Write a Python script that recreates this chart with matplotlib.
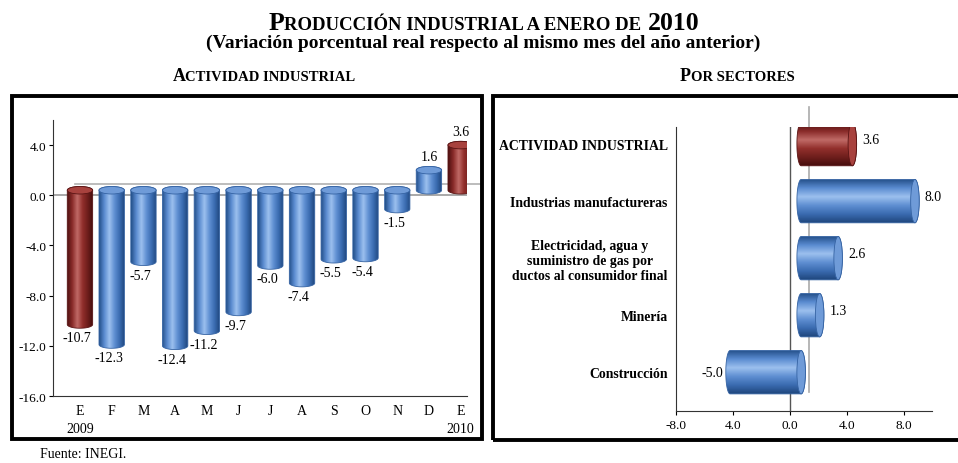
import numpy as np
import matplotlib.pyplot as plt
from matplotlib.colors import LinearSegmentedColormap
from matplotlib.patches import Ellipse, PathPatch, Rectangle
from matplotlib.path import Path

plt.rcParams['font.family'] = ['Liberation Serif', 'DejaVu Serif']

# datos
meses = ['E', 'F', 'M', 'A', 'M', 'J', 'J', 'A', 'S', 'O', 'N', 'D', 'E']
anios = ['2009', '', '', '', '', '', '', '', '', '', '', '', '2010']
var_mensual = [-10.7, -12.3, -5.7, -12.4, -11.2, -9.7, -6.0, -7.4, -5.5, -5.4, -1.5, 1.6, 3.6]
destacados = [0, 12]

sectores = ['Construcción', 'Minería',
            'Electricidad, agua y\nsuministro de gas por\nductos al consumidor final',
            'Industrias manufactureras', 'ACTIVIDAD INDUSTRIAL']
var_sector = [-5.0, 1.3, 2.6, 8.0, 3.6]
destacado_sector = 4

yticks_izq = [4.0, 0.0, -4.0, -8.0, -12.0, -16.0]
xticks_der = [-8.0, -4.0, 0.0, 4.0, 8.0]
xticklabels_der = ['-8.0', '4.0', '0.0', '4.0', '8.0']

azul = LinearSegmentedColormap.from_list('azul', ['#24508a', '#5a8bd0', '#9cc0ee', '#5f8fd2', '#3a6bb0', '#1f467c'])
rojo = LinearSegmentedColormap.from_list('rojo', ['#4e1010', '#8a2c2a', '#c06a66', '#922f2c', '#6e1e1c', '#460d0d'])
tapa = {'azul': ('#6f9bd8', '#3563a3'), 'rojo': ('#a8423e', '#5a1414')}


def cilindro(ax, pos, v, ancho, cap, depth, cmap, nombre, horizontal=False):
    lo, hi = min(0, v) + depth, max(0, v) + depth
    t1 = np.linspace(np.pi, 0, 40)
    t2 = np.linspace(0, -np.pi, 40)
    a = np.r_[pos + ancho / 2 * np.cos(t1), pos + ancho / 2 * np.cos(t2)]
    b = np.r_[hi + cap / 2 * np.sin(t1), lo + cap / 2 * np.sin(t2)]
    if horizontal:
        verts = np.c_[b, a]
        ext = [lo - cap / 2, hi + cap / 2, pos - ancho / 2, pos + ancho / 2]
        grad = np.linspace(1, 0, 100).reshape(-1, 1)
    else:
        verts = np.c_[a, b]
        ext = [pos - ancho / 2, pos + ancho / 2, lo - cap / 2, hi + cap / 2]
        grad = np.linspace(0, 1, 100).reshape(1, -1)
    path = Path(np.r_[verts, verts[:1]], closed=True)
    borde = PathPatch(path, facecolor='none', edgecolor=tapa[nombre][1], lw=0.6, zorder=3)
    ax.add_patch(borde)
    im = ax.imshow(grad, extent=ext, origin='lower', aspect='auto', cmap=cmap,
                   interpolation='bilinear', zorder=2)
    im.set_clip_path(borde)
    if horizontal:
        e = Ellipse((hi, pos), cap, ancho)
    else:
        e = Ellipse((pos, hi), ancho, cap)
    e.set(facecolor=tapa[nombre][0], edgecolor=tapa[nombre][1], lw=0.6, zorder=4)
    ax.add_patch(e)
    return lo, hi


fig = plt.figure(figsize=(9.58, 4.64), dpi=100)
W, H = 958, 464


def fx(px):
    return px / W


def fy(py):
    return 1 - py / H


# títulos en versalitas
def versalitas(xc, yb, piezas, **kw):
    r = fig.canvas.get_renderer()
    textos, anchos = [], []
    for txt, size, gap in piezas:
        t = fig.text(0, fy(yb), txt, fontsize=size, fontweight='bold', va='baseline', ha='left', **kw)
        textos.append((t, gap))
        anchos.append(t.get_window_extent(r).width + gap)
    x = xc - sum(anchos) / 2
    for (t, gap), w in zip(textos, anchos):
        x += gap
        t.set_x(fx(x))
        x += w - gap


versalitas(484, 30, [('P', 18.5, 0), ('RODUCCIÓN INDUSTRIAL A ENERO DE', 13.5, 0), ('2010', 18.5, 6)])
fig.text(fx(483), fy(48), '(Variación porcentual real respecto al mismo mes del año anterior)',
         fontsize=14, fontweight='bold', ha='center', va='baseline')
versalitas(264, 81, [('A', 13, 0), ('CTIVIDAD INDUSTRIAL', 10.5, 0)])
versalitas(737, 81, [('P', 13, 0), ('OR SECTORES', 10.5, 0)])
fig.text(fx(40), fy(458), 'Fuente: INEGI.', fontsize=10, ha='left', va='baseline')

# marcos
fig.patches.append(Rectangle((fx(12), fy(440)), fx(470), 343 / H, transform=fig.transFigure,
                             fill=False, lw=2.8, edgecolor='black'))
fig.patches.append(Rectangle((fx(493), fy(441)), fx(475), 344 / H, transform=fig.transFigure,
                             fill=False, lw=2.8, edgecolor='black', clip_on=False))

# ---- actividad industrial mensual ----
ax = fig.add_axes([fx(53), fy(397), fx(414), 276 / H])
x = np.arange(len(var_mensual))
depth = 0.4
ax.plot([-0.16, 12.6], [0.9, 0.9], color='#b0b0b0', lw=1.2, zorder=1, clip_on=False)
ax.axhline(0, color='#9a9a9a', lw=1.2, zorder=1)
for i, v in enumerate(var_mensual):
    nombre = 'rojo' if i in destacados else 'azul'
    cmap = rojo if i in destacados else azul
    lo, hi = cilindro(ax, i, v, 0.8, 0.6, depth, cmap, nombre)
    if v >= 0:
        ax.text(i, hi + 0.6, f'{v:.1f}', ha='center', va='bottom', fontsize=10)
    else:
        ax.text(i - 0.1, lo - 0.55, f'{v:.1f}', ha='center', va='top', fontsize=10)

ax.set_xlim(-0.85, 12.2)
ax.set_ylim(-16, 6)
ax.set_yticks(yticks_izq)
ax.set_yticklabels([f'{t:.1f}' for t in yticks_izq], fontsize=9.5)
ax.set_xticks(x)
ax.set_xticklabels([f'{m}\n{a}' if a else m for m, a in zip(meses, anios)], fontsize=10,
                   va='top', linespacing=1.45)
ax.tick_params(axis='x', length=0, pad=6)
ax.tick_params(axis='y', length=3, pad=2)
for s in ['top', 'right']:
    ax.spines[s].set_visible(False)
for s in ['left', 'bottom']:
    ax.spines[s].set_color('#333333')

# ---- por sectores ----
ax2 = fig.add_axes([fx(676), fy(412), fx(256), 284 / H])
y = np.arange(len(var_sector))
depth2 = 0.8
ax2.axvline(0, color='#555555', lw=1.0, zorder=1)
ax2.plot([1.35, 1.35], [-0.35, 4.65], color='#aaaaaa', lw=1.2, zorder=1, clip_on=False)
for i, v in enumerate(var_sector):
    nombre = 'rojo' if i == destacado_sector else 'azul'
    cmap = rojo if i == destacado_sector else azul
    lo, hi = cilindro(ax2, i, v, 0.76, 0.6, depth2, cmap, nombre, horizontal=True)
    if v >= 0:
        ax2.text(hi + 0.7, i + 0.08, f'{v:.1f}', ha='left', va='center', fontsize=10)
    else:
        ax2.text(lo - 0.5, i, f'{v:.1f}', ha='right', va='center', fontsize=10)

ax2.set_xlim(-8, 10)
ax2.set_ylim(-0.68, 4.3)
ax2.set_xticks(xticks_der)
ax2.set_xticklabels(xticklabels_der, fontsize=9.5)
ax2.set_yticks(y)
ax2.set_yticklabels(sectores, fontsize=9.9, fontweight='bold', multialignment='center')
ax2.tick_params(axis='y', length=0, pad=6)
ax2.tick_params(axis='x', length=3, pad=3)
for s in ['top', 'right']:
    ax2.spines[s].set_visible(False)
for s in ['left', 'bottom']:
    ax2.spines[s].set_color('#333333')

fig.savefig('out.png', dpi=100)
